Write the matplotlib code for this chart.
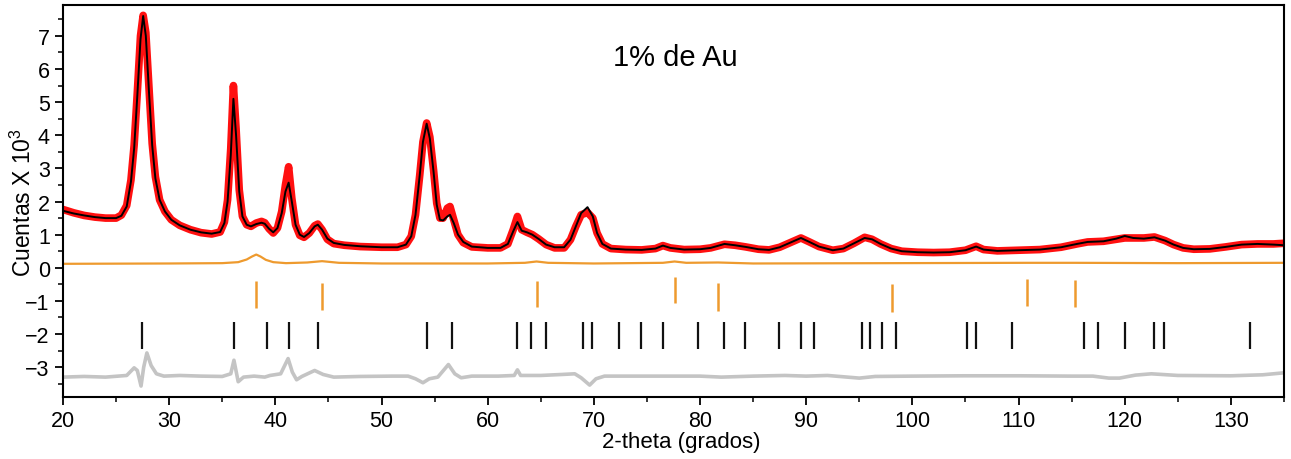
import matplotlib
matplotlib.use("Agg")
import matplotlib.pyplot as plt
from matplotlib.ticker import MultipleLocator

plt.rcParams['font.family'] = ['Liberation Sans', 'DejaVu Sans']
plt.rcParams['mathtext.fontset'] = 'custom'
plt.rcParams['mathtext.rm'] = 'Liberation Sans'
plt.rcParams['mathtext.it'] = 'Liberation Sans'

# ---- calculated pattern (black), digitized ----
calc_x = [20.0, 21.0, 22.0, 23.0, 24.0, 25.0, 25.5, 26.0, 26.4, 26.7, 27.0, 27.3, 27.55, 27.8,
          28.1, 28.4, 28.7, 29.1, 29.6, 30.2, 31.0, 32.0, 33.0, 34.0, 34.8, 35.2, 35.5, 35.8,
          36.05, 36.3, 36.6, 36.9, 37.3, 37.7, 38.2, 38.7, 39.0, 39.4, 39.8, 40.2, 40.6, 40.95,
          41.25, 41.55, 41.9, 42.3, 42.7, 43.2, 43.7, 44.0, 44.4, 44.9, 45.5, 46.5, 48.0, 50.0,
          51.5, 52.3, 52.8, 53.2, 53.6, 53.9, 54.25, 54.55, 54.9, 55.2, 55.5, 55.8, 56.2, 56.45,
          56.8, 57.2, 57.7, 58.5, 60.0, 61.2, 61.9, 62.4, 62.8, 63.2, 63.7, 64.2, 64.8, 65.5,
          66.3, 67.2, 67.8, 68.3, 68.8, 69.4, 69.9, 70.3, 70.8, 71.6, 73.0, 74.5, 75.8, 76.5,
          77.2, 78.5, 80.0, 81.0, 82.3, 83.3, 84.3, 85.5, 86.5, 87.5, 88.5, 89.5, 90.3, 91.2,
          92.5, 93.5, 94.5, 95.5, 96.2, 97.0, 98.0, 99.0, 100.5, 102.0, 103.5, 105.0, 106.0,
          106.7, 108.0, 110.0, 112.0, 114.0, 115.5, 116.5, 118.0, 119.2, 120.0, 120.8, 121.8,
          122.8, 123.8, 124.6, 125.5, 126.5, 128.0, 129.5, 131.0, 132.5, 134.0, 135.0]
calc_y = [1.72, 1.64, 1.58, 1.53, 1.50, 1.50, 1.57, 1.85, 2.6, 3.6, 5.2, 6.9, 7.6, 7.0,
          5.3, 3.7, 2.7, 2.05, 1.7, 1.45, 1.28, 1.15, 1.07, 1.03, 1.08, 1.35, 2.0, 3.4,
          5.1, 4.0, 2.3, 1.55, 1.3, 1.25, 1.32, 1.36, 1.33, 1.18, 1.07, 1.2, 1.65, 2.3,
          2.57, 2.0, 1.3, 1.0, 0.93, 1.05, 1.25, 1.3, 1.15, 0.88, 0.75, 0.69, 0.65, 0.62,
          0.62, 0.7, 0.95, 1.6, 2.8, 3.8, 4.35, 3.9, 2.9, 1.9, 1.45, 1.43, 1.55, 1.6,
          1.35, 1.0, 0.78, 0.64, 0.6, 0.6, 0.72, 1.1, 1.38, 1.12, 1.07, 1.0, 0.87, 0.7,
          0.62, 0.62, 0.85, 1.25, 1.65, 1.83, 1.55, 1.05, 0.72, 0.58, 0.55, 0.54, 0.58, 0.67,
          0.6, 0.55, 0.56, 0.6, 0.72, 0.68, 0.63, 0.56, 0.54, 0.62, 0.76, 0.9, 0.78, 0.64,
          0.53, 0.58, 0.74, 0.9, 0.86, 0.72, 0.58, 0.5, 0.47, 0.46, 0.47, 0.53, 0.64,
          0.55, 0.51, 0.53, 0.55, 0.62, 0.72, 0.78, 0.8, 0.88, 0.96, 0.9, 0.88,
          0.92, 0.82, 0.7, 0.6, 0.56, 0.57, 0.63, 0.7, 0.72, 0.7, 0.68]

# ---- observed pattern (red), digitized ----
obs_x = calc_x
obs_y = [1.76, 1.66, 1.58, 1.53, 1.50, 1.50, 1.59, 1.88, 2.65, 3.7, 5.3, 7.0, 7.62, 7.1,
         5.4, 3.75, 2.75, 2.05, 1.7, 1.45, 1.28, 1.15, 1.06, 1.02, 1.08, 1.38, 2.05, 3.6,
         5.5, 4.2, 2.35, 1.55, 1.3, 1.25, 1.35, 1.4, 1.36, 1.18, 1.05, 1.2, 1.7, 2.5,
         3.05, 2.1, 1.3, 0.98, 0.92, 1.05, 1.27, 1.32, 1.15, 0.86, 0.73, 0.68, 0.64, 0.62,
         0.62, 0.7, 0.95, 1.6, 2.8, 3.8, 4.37, 3.95, 2.95, 1.95, 1.5, 1.5, 1.8, 1.85,
         1.45, 1.0, 0.76, 0.63, 0.6, 0.6, 0.72, 1.15, 1.55, 1.15, 1.07, 1.0, 0.87, 0.7,
         0.6, 0.6, 0.85, 1.25, 1.6, 1.67, 1.5, 1.05, 0.72, 0.58, 0.55, 0.54, 0.58, 0.67,
         0.6, 0.55, 0.56, 0.6, 0.71, 0.68, 0.63, 0.56, 0.54, 0.62, 0.76, 0.9, 0.78, 0.64,
         0.53, 0.58, 0.74, 0.92, 0.86, 0.72, 0.58, 0.5, 0.47, 0.46, 0.47, 0.53, 0.65,
         0.55, 0.51, 0.53, 0.55, 0.62, 0.72, 0.78, 0.8, 0.86, 0.9, 0.9, 0.9,
         0.93, 0.82, 0.7, 0.6, 0.56, 0.57, 0.63, 0.7, 0.72, 0.72, 0.74]

# ---- Au phase contribution (orange), digitized ----
au_x = [20, 30, 35, 36.5, 37.3, 37.8, 38.2, 38.6, 39.1, 39.8, 41, 43, 44.4, 46, 50, 60, 63.5,
        64.6, 65.7, 70, 76.5, 77.6, 78.7, 81.7, 85, 98.1, 110.8, 115.3, 125, 135]
au_y = [0.12, 0.13, 0.14, 0.17, 0.25, 0.34, 0.4, 0.34, 0.24, 0.17, 0.14, 0.16, 0.2, 0.15, 0.13,
        0.13, 0.15, 0.19, 0.15, 0.13, 0.15, 0.19, 0.15, 0.16, 0.13, 0.14, 0.15, 0.15, 0.14, 0.15]

# ---- difference curve (grey), digitized ----
diff_x = [20, 22, 24, 26, 26.7, 27.0, 27.35, 27.6, 27.9, 28.3, 28.8, 29.5, 31, 33, 35, 35.8,
          36.1, 36.5, 37.0, 38, 39, 39.5, 40.5, 41.2, 41.6, 42.0, 42.5, 43.7, 44.5, 45.5, 48,
          51, 52.5, 53.2, 53.9, 54.5, 55.3, 56.3, 56.9, 57.5, 58.5, 61, 62.5, 62.8, 63.1, 65,
          67, 68.2, 68.8, 69.6, 70.2, 71, 75, 80, 82, 85, 88, 90, 92, 95, 96.5, 100, 105, 110,
          115, 117, 118.5, 119.5, 121, 122.5, 125, 130, 133, 135]
diff_y = [-3.3, -3.28, -3.3, -3.25, -3.02, -3.1, -3.57, -3.0, -2.57, -2.95, -3.2, -3.27, -3.25,
          -3.27, -3.28, -3.2, -2.79, -3.44, -3.3, -3.27, -3.3, -3.25, -3.2, -2.74, -3.15, -3.38,
          -3.28, -3.1, -3.22, -3.3, -3.28, -3.27, -3.27, -3.35, -3.47, -3.35, -3.3, -2.92, -3.2,
          -3.32, -3.27, -3.27, -3.25, -3.08, -3.25, -3.25, -3.22, -3.2, -3.32, -3.54, -3.35,
          -3.27, -3.27, -3.27, -3.3, -3.27, -3.25, -3.27, -3.25, -3.33, -3.28, -3.27, -3.26,
          -3.26, -3.27, -3.27, -3.33, -3.33, -3.24, -3.2, -3.25, -3.26, -3.23, -3.17]

# ---- reflection markers ----
au_ticks = [38.2, 44.4, 64.6, 77.6, 81.7, 98.1, 110.8, 115.3]
au_tick_top = [-0.41, -0.45, -0.41, -0.27, -0.47, -0.5, -0.34, -0.37]
au_tick_bot = [-1.22, -1.28, -1.19, -1.06, -1.30, -1.33, -1.16, -1.18]
tio2_ticks = [27.45, 36.1, 39.2, 41.25, 44.05, 54.3, 56.6, 62.75, 64.05, 65.5, 69.0, 69.8,
              72.4, 74.4, 76.5, 79.8, 82.3, 84.25, 87.45, 89.55, 90.7, 95.25, 96.05, 97.15,
              98.5, 105.1, 106.0, 109.4, 116.2, 117.5, 120.05, 122.8, 123.7, 131.75]

fig = plt.figure(figsize=(12.91, 4.60), dpi=100)
ax = fig.add_axes([0.0488, 0.1348, 0.9458, 0.852])

ax.plot(diff_x, diff_y, color='#c4c4c4', lw=2.6)
ax.plot(au_x, au_y, color='#ee9a2e', lw=1.6)
ax.vlines(au_ticks, au_tick_bot, au_tick_top, color='#ee9a2e', lw=1.8)
ax.vlines(tio2_ticks, -2.46, -1.64, color='#111111', lw=1.6)
ax.plot(obs_x, obs_y, color='#ff1010', lw=5.5, solid_joinstyle='round', solid_capstyle='round')
ax.plot(calc_x, calc_y, color='black', lw=1.4)

ax.text(77.7, 6.36, '1% de Au', fontsize=21, ha='center', va='center')

ax.set_xlim(20, 135)
ax.set_ylim(-3.9, 7.93)
ax.xaxis.set_major_locator(MultipleLocator(10))
ax.xaxis.set_minor_locator(MultipleLocator(5))
ax.yaxis.set_major_locator(MultipleLocator(1))
ax.yaxis.set_minor_locator(MultipleLocator(0.5))
ax.tick_params(which='major', direction='out', length=6, width=1.3, labelsize=15.5)
ax.tick_params(which='minor', direction='out', length=3.5, width=1.1)
for s in ax.spines.values():
    s.set_linewidth(1.5)

ax.set_xlabel('2-theta (grados)', fontsize=16)
ax.xaxis.set_label_coords(0.506, -0.088)
ax.set_ylabel('Cuentas X 10$^{3}$', fontsize=16.5)
ax.yaxis.set_label_coords(-0.0225, 0.5)

fig.savefig('out.png', dpi=100)
